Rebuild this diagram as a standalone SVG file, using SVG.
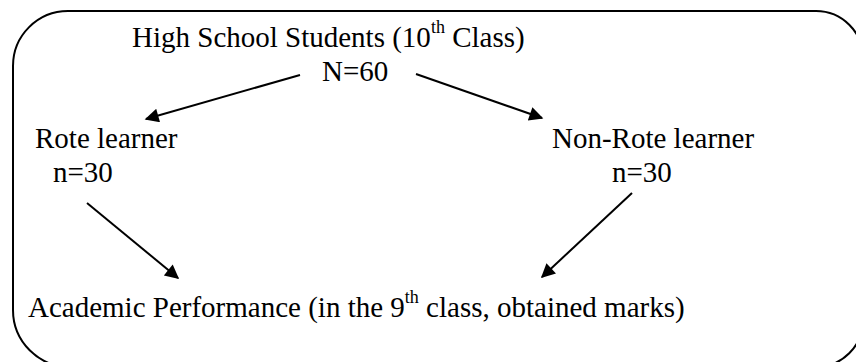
<svg xmlns="http://www.w3.org/2000/svg" width="856" height="362" viewBox="0 0 856 362">
<style>
  text { font-family: "Liberation Serif", "Times New Roman", serif; font-size: 29px; fill: #000; }
  .sup { font-size: 18px; }
  .frame { fill: none; stroke: #000; stroke-width: 2; }
  .conn { stroke: #000; stroke-width: 2; fill: none; }
</style>
<defs>
  <marker id="arr" viewBox="0 0 10 10" refX="9" refY="5" markerWidth="16" markerHeight="14" markerUnits="userSpaceOnUse" orient="auto">
    <path d="M0,0 L10,5 L0,10 Z" fill="#000"/>
  </marker>
</defs>
<path class="frame" d="M 68 11 H 816 A 47 47 0 0 1 863 58 V 320 A 47 47 0 0 1 816 367 H 70 A 57 57 0 0 1 13 310 V 66 A 55 55 0 0 1 68 11 Z"/>
<g id="top">
  <text x="132" y="47">High School Students (10<tspan class="sup" dy="-14">th</tspan><tspan dy="14"> Class)</tspan></text>
  <text x="322" y="81">N=60</text>
</g>
<g id="rote">
  <text x="35" y="148">Rote learner</text>
  <text x="53" y="182">n=30</text>
</g>
<g id="nonrote">
  <text x="552" y="148">Non-Rote learner</text>
  <text x="612" y="182">n=30</text>
</g>
<g id="academic">
  <text x="28" y="317">Academic Performance (in the 9<tspan class="sup" dy="-14">th</tspan><tspan dy="14"> class, obtained marks)</tspan></text>
</g>
<g id="connectors">
  <line class="conn" x1="300" y1="75" x2="146" y2="119" marker-end="url(#arr)"/>
  <line class="conn" x1="416" y1="74" x2="542" y2="118" marker-end="url(#arr)"/>
  <line class="conn" x1="87" y1="203" x2="178" y2="278" marker-end="url(#arr)"/>
  <line class="conn" x1="632" y1="193" x2="542" y2="277" marker-end="url(#arr)"/>
</g>
</svg>
